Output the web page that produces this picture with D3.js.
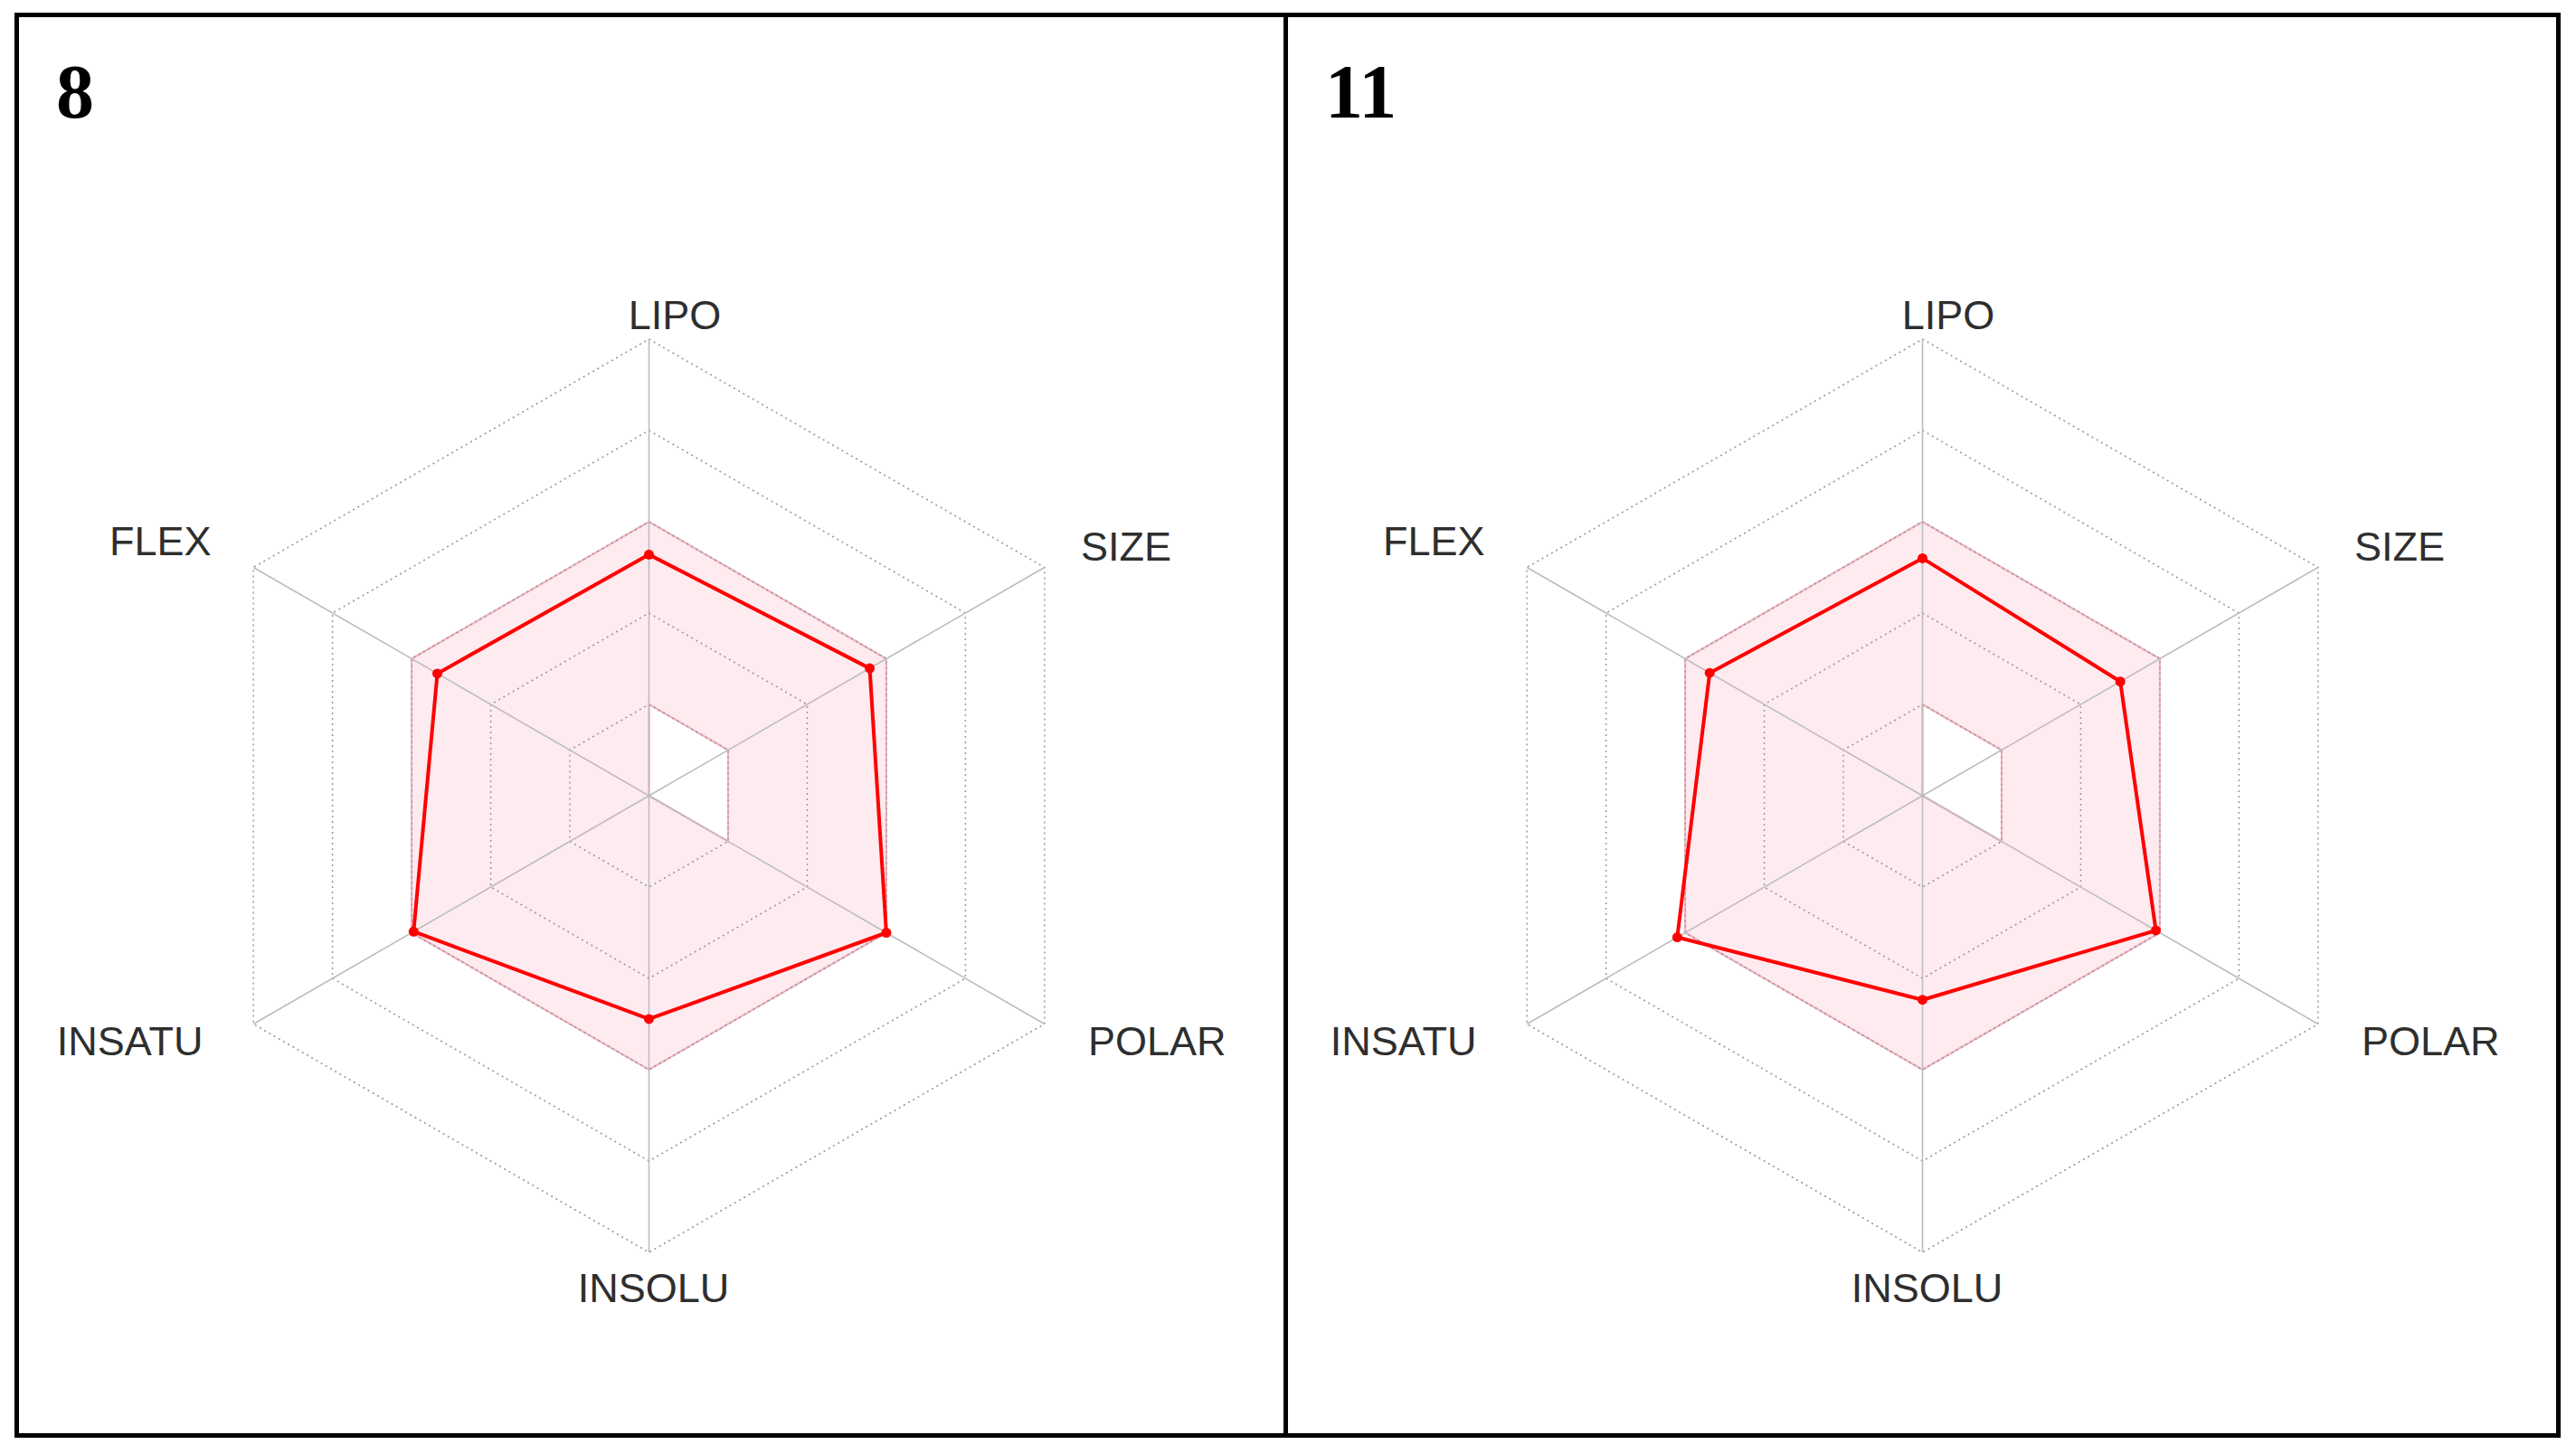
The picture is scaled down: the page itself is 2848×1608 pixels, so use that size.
<!DOCTYPE html>
<html>
<head>
<meta charset="utf-8">
<script src="https://cdn.jsdelivr.net/npm/d3@7"></script>
<style>
  html, body { margin: 0; padding: 0; background: #fff; }
  svg { display: block; }
</style>
</head>
<body>
<svg id="chart" width="2848" height="1608"></svg>
<script>
// ---- data ----
const axes = ["LIPO", "SIZE", "POLAR", "INSOLU", "INSATU", "FLEX"];
const panelLabels = ["8", "11"];
const values8  = [0.528, 0.558, 0.600, 0.489, 0.595, 0.535];
const values11 = [0.520, 0.500, 0.590, 0.447, 0.620, 0.538];
const optimalMin = [0.2, 0.2, 0.2, 0, 0, 0];
const optimalMax = [0.6, 0.6, 0.6, 0.6, 0.6, 0.6];
const ringLevels = [0.2, 0.4, 0.6, 0.8, 1.0];

// ---- layout ----
const W = 2848, H = 1608;
const svg = d3.select("#chart");
const R = 505;
const centers = [[717.5, 880], [2125.5, 880]];
const labelOffsets = {
  LIPO:   {dx: 28.5,  dy: -516, anchor: "middle"},
  SIZE:   {dx: 477.5, dy: -260, anchor: "start"},
  POLAR:  {dx: 485.5, dy: 287,  anchor: "start"},
  INSOLU: {dx: 5,     dy: 560,  anchor: "middle"},
  INSATU: {dx: -493,  dy: 287,  anchor: "end"},
  FLEX:   {dx: -484,  dy: -266, anchor: "end"}
};

const rScale = d3.scaleLinear().domain([0, 1]).range([0, R]);
const angle = d3.scalePoint().domain(axes).range([0, 300]); // degrees, clockwise from top
function pt(ax, v) {
  const a = (angle(ax) - 90) * Math.PI / 180;
  return [rScale(v) * Math.cos(a), rScale(v) * Math.sin(a)];
}
const lineGen = d3.line().curve(d3.curveLinearClosed);

function drawPanel(cx, cy, values, label, textX) {
  const g = svg.append("g").attr("transform", `translate(${cx},${cy})`);

  // optimal region (pink), outer minus inner
  const outer = lineGen(axes.map((a, i) => pt(a, optimalMax[i])));
  const inner = lineGen(axes.map((a, i) => pt(a, optimalMin[i])));
  g.append("path")
    .attr("d", outer + inner)
    .attr("fill-rule", "evenodd")
    .attr("fill", "#fdebf0")
    .attr("stroke", "#f3b3c0")
    .attr("stroke-width", 2.2);

  // ring grid (dotted)
  ringLevels.forEach(l => {
    g.append("path")
      .attr("d", lineGen(axes.map(a => pt(a, l))))
      .attr("fill", "none")
      .attr("stroke", "#9a9a9a")
      .attr("stroke-width", 1.5)
      .attr("stroke-dasharray", "2,4");
  });

  // axes (solid)
  axes.forEach(a => {
    const p = pt(a, 1);
    g.append("line")
      .attr("x1", 0).attr("y1", 0).attr("x2", p[0]).attr("y2", p[1])
      .attr("stroke", "#bdbdbd")
      .attr("stroke-width", 1.6);
  });

  // data polygon
  const pts = axes.map((a, i) => pt(a, values[i]));
  g.append("path")
    .attr("d", lineGen(pts))
    .attr("fill", "none")
    .attr("stroke", "#ff0000")
    .attr("stroke-width", 4)
    .attr("stroke-linejoin", "round");
  g.selectAll("circle.dot").data(pts).enter().append("circle")
    .attr("class", "dot")
    .attr("cx", d => d[0]).attr("cy", d => d[1])
    .attr("r", 5.5)
    .attr("fill", "#ff0000");

  // axis labels
  axes.forEach(a => {
    const o = labelOffsets[a];
    g.append("text")
      .attr("x", o.dx).attr("y", o.dy)
      .attr("text-anchor", o.anchor)
      .attr("font-family", "'Liberation Sans', Arial, sans-serif")
      .attr("font-size", 45)
      .attr("fill", "#2e2e2e")
      .text(a);
  });

  // panel label
  svg.append("text")
    .attr("x", textX).attr("y", 130)
    .attr("font-family", "'Liberation Serif', 'Times New Roman', serif")
    .attr("font-weight", "bold")
    .attr("font-size", 84)
    .attr("fill", "#000")
    .text(label);
}

drawPanel(centers[0][0], centers[0][1], values8, panelLabels[0], 62);
drawPanel(centers[1][0], centers[1][1], values11, panelLabels[1], 1465);

// frame
svg.append("rect")
  .attr("x", 18.5).attr("y", 16.5)
  .attr("width", 2810).attr("height", 1571)
  .attr("fill", "none")
  .attr("stroke", "#000")
  .attr("stroke-width", 5);
svg.append("line")
  .attr("x1", 1421.5).attr("x2", 1421.5)
  .attr("y1", 16.5).attr("y2", 1587.5)
  .attr("stroke", "#000")
  .attr("stroke-width", 5);
</script>
</body>
</html>
